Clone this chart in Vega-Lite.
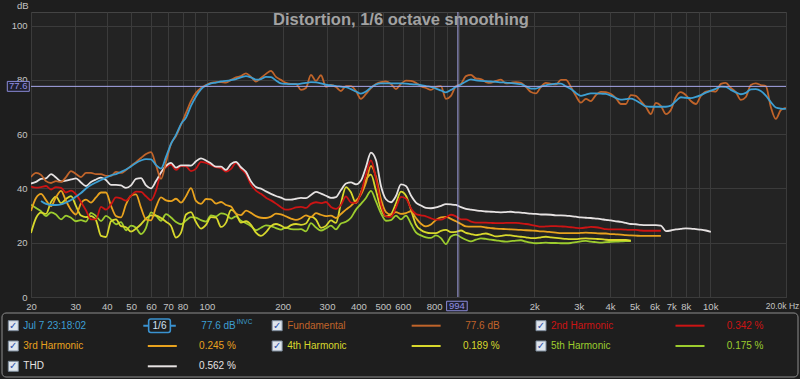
{
"$schema": "https://vega.github.io/schema/vega-lite/v6.json",
"width": 755, "height": 285,
"autosize": {"type": "none"},
"padding": {"left": 31, "top": 12, "right": 14, "bottom": 82},
"background": "#1e1e1e",
"config": {
  "view": {"fill": "#232323", "stroke": "#444444"},
  "font": "Liberation Sans"
},
"title": {"text": "Distortion, 1/6 octave smoothing", "anchor": "middle", "frame": "group", "offset": -41, "baseline": "alphabetic", "dx": -7.5, "color": "#a2a2a2", "fontSize": 16.5, "fontWeight": "bold", "font": "Liberation Sans"},
"datasets": {
"curves": [
{"f":20,"F":44.2,"THD":41.8,"H2":40.7,"H3":31.7,"H4":23.6,"H5":34.0},
{"f":20.94,"F":45.7,"THD":42.4,"H2":40.3,"H3":36.5,"H4":29.1,"H5":32.8},
{"f":21.92,"F":45.0,"B":35.4,"THD":43.5,"H2":40.5,"H3":38.0,"H4":31.1,"H5":31.6},
{"f":22.94,"F":42.7,"B":34.3,"THD":43.7,"H2":40.9,"H3":35.7,"H4":30.6,"H5":29.8},
{"f":24.02,"F":42.0,"B":33.9,"THD":45.3,"H2":39.6,"H3":33.5,"H4":35.0,"H5":31.2},
{"f":25.14,"F":42.7,"B":33.9,"THD":44.0,"H2":40.5,"H3":36.8,"H4":37.0,"H5":30.4},
{"f":26.32,"F":42.4,"B":34.1,"THD":42.6,"H2":40.2,"H3":39.1,"H4":34.6,"H5":28.6},
{"f":27.55,"F":44.2,"B":34.8,"THD":42.9,"H2":38.5,"H3":35.4,"H4":36.1,"H5":30.0},
{"f":28.84,"F":46.4,"B":35.7,"THD":43.3,"H2":39.2,"H3":32.1,"H4":37.2,"H5":29.2},
{"f":30.19,"F":45.3,"B":37.0,"THD":43.7,"H2":37.8,"H3":30.4,"H4":33.5,"H5":27.9},
{"f":31.6,"F":44.2,"B":38.3,"THD":42.2,"H2":35.0,"H3":34.5,"H4":30.0,"H5":28.3},
{"f":33.08,"F":45.7,"B":40.0,"THD":40.9,"H2":31.9,"H3":35.9,"H4":29.4,"H5":27.8},
{"f":34.63,"F":45.7,"B":41.3,"THD":42.4,"H2":28.6,"H3":34.8,"H4":29.8,"H5":31.0},
{"f":36.25,"F":45.3,"B":42.2,"THD":43.3,"H2":28.6,"H3":36.7,"H4":28.3,"H5":29.8},
{"f":37.95,"F":45.3,"B":43.1,"THD":44.0,"H2":33.2,"H3":38.5,"H4":22.5,"H5":28.0},
{"f":39.72,"F":44.6,"B":44.0,"THD":43.1,"H2":32.2,"H3":38.5,"H4":22.1,"H5":29.9},
{"f":41.58,"F":44.6,"B":44.8,"THD":41.3,"H2":34.1,"H3":33.7,"H4":27.9,"H5":28.6},
{"f":43.53,"F":46.1,"B":45.3,"THD":41.3,"H2":36.7,"H3":29.8,"H4":28.6,"H5":26.8},
{"f":45.57,"F":45.7,"B":46.1,"THD":41.1,"H2":36.3,"H3":29.3,"H4":26.1,"H5":27.6},
{"f":47.7,"F":46.8,"B":47.0,"THD":40.2,"H2":35.5,"H3":34.1,"H4":25.7,"H5":24.6},
{"f":49.93,"F":48.3,"B":48.1,"THD":41.1,"H2":37.3,"H3":37.3,"H4":24.1,"H5":26.3},
{"f":52.27,"F":49.7,"B":49.4,"THD":43.5,"H2":38.8,"H3":37.8,"H4":25.2,"H5":25.5},
{"f":54.71,"F":51.2,"B":50.3,"THD":43.8,"H2":38.7,"H3":32.9,"H4":26.8,"H5":23.2},
{"f":57.28,"F":52.7,"B":50.8,"THD":41.1,"H2":37.1,"H3":28.6,"H4":28.9,"H5":25.5},
{"f":59.96,"F":53.4,"B":50.7,"THD":40.0,"H2":35.6,"H3":28.2,"H4":30.1,"H5":31.2},
{"f":62.76,"F":48.6,"B":48.6,"THD":42.7,"H2":39.2,"H3":33.1,"H4":30.0,"H5":30.0},
{"f":65.7,"F":43.5,"B":47.3,"THD":45.9,"H2":45.9,"H3":36.7,"H4":29.1,"H5":28.1},
{"f":68.78,"F":49.7,"B":51.6,"THD":48.3,"H2":47.8,"H3":35.6,"H4":27.7,"H5":30.5},
{"f":72.0,"F":56.4,"B":56.4,"THD":49.4,"H2":48.8,"H3":35.3,"H4":26.2,"H5":29.3},
{"f":75.37,"F":59.3,"B":59.7,"THD":47.7,"H2":46.8,"H3":36.2,"H4":21.9,"H5":27.6},
{"f":78.89,"F":63.4,"B":63.7,"THD":48.5,"H2":48.2,"H3":34.8,"H4":23.7,"H5":26.8},
{"f":82.59,"F":67.8,"B":66.1,"THD":48.5,"H2":48.1,"H3":37.1,"H4":30.4,"H5":28.2},
{"f":86.45,"F":72.2,"B":70.4,"THD":48.4,"H2":46.4,"H3":40.1,"H4":31.3,"H5":29.4},
{"f":90.5,"F":75.2,"B":73.9,"THD":50.0,"H2":47.3,"H3":35.4,"H4":27.6,"H5":29.2},
{"f":94.73,"F":77.0,"B":76.5,"THD":51.1,"H2":49.8,"H3":34.3,"H4":25.2,"H5":28.3},
{"f":99.17,"F":78.1,"B":77.9,"THD":50.3,"H2":49.4,"H3":36.1,"H4":26.6,"H5":27.8},
{"f":103.8,"F":78.9,"B":78.7,"THD":49.2,"H2":48.7,"H3":36.0,"H4":29.4,"H5":30.1},
{"f":108.7,"F":79.2,"B":79.0,"THD":48.0,"H2":47.8,"H3":34.4,"H4":29.2,"H5":29.7},
{"f":113.8,"F":79.2,"B":79.4,"THD":48.0,"H2":47.5,"H3":35.0,"H4":25.8,"H5":30.8},
{"f":119.1,"F":79.0,"B":79.6,"THD":46.8,"H2":46.2,"H3":33.9,"H4":27.4,"H5":30.4},
{"f":124.7,"F":80.0,"B":79.9,"THD":49.0,"H2":47.2,"H3":33.3,"H4":32.1,"H5":28.9},
{"f":130.5,"F":80.9,"B":80.3,"THD":49.8,"H2":49.4,"H3":30.7,"H4":30.7,"H5":29.7},
{"f":136.6,"F":81.4,"B":80.9,"THD":47.8,"H2":47.2,"H3":30.2,"H4":27.4,"H5":28.1},
{"f":143.0,"F":82.4,"B":81.4,"THD":46.1,"H2":45.3,"H3":31.8,"H4":27.9,"H5":27.2},
{"f":149.7,"F":81.1,"B":80.9,"THD":42.6,"H2":41.4,"H3":31.0,"H4":26.6,"H5":26.1},
{"f":156.7,"F":79.4,"B":80.1,"THD":40.5,"H2":39.2,"H3":29.8,"H4":23.7,"H5":24.6},
{"f":164.0,"F":80.7,"B":80.3,"THD":39.9,"H2":38.0,"H3":29.2,"H4":22.5,"H5":25.5},
{"f":171.7,"F":82.2,"B":81.1,"THD":38.9,"H2":36.6,"H3":29.1,"H4":23.9,"H5":26.4},
{"f":179.7,"F":83.3,"B":81.0,"THD":38.0,"H2":35.6,"H3":29.6,"H4":26.1,"H5":26.1},
{"f":188.1,"F":81.1,"B":79.8,"THD":37.2,"H2":34.4,"H3":30.7,"H4":26.9,"H5":25.4},
{"f":196.9,"F":80.0,"B":78.7,"THD":36.6,"H2":33.1,"H3":30.4,"H4":26.3,"H5":24.8},
{"f":206.2,"F":78.9,"B":78.5,"THD":35.9,"H2":32.2,"H3":29.7,"H4":25.4,"H5":25.6},
{"f":215.8,"F":78.5,"B":78.4,"THD":35.9,"H2":32.4,"H3":28.9,"H4":26.5,"H5":25.0},
{"f":225.9,"F":78.5,"B":78.4,"THD":36.2,"H2":33.0,"H3":28.4,"H4":26.9,"H5":24.9},
{"f":236.5,"F":76.3,"B":78.6,"THD":36.5,"H2":33.2,"H3":29.0,"H4":26.6,"H5":25.0},
{"f":247.5,"F":77.0,"B":78.9,"THD":36.4,"H2":32.8,"H3":30.1,"H4":27.1,"H5":24.2},
{"f":259.1,"F":81.8,"B":79.2,"THD":37.6,"H2":34.3,"H3":29.4,"H4":29.6,"H5":27.2},
{"f":271.3,"F":79.6,"B":79.1,"THD":38.7,"H2":34.9,"H3":30.9,"H4":28.5,"H5":25.6},
{"f":283.9,"F":81.7,"B":78.7,"THD":38.1,"H2":34.6,"H3":30.3,"H4":25.5,"H5":24.5},
{"f":297.2,"F":77.4,"B":78.2,"THD":37.3,"H2":35.0,"H3":29.8,"H4":26.2,"H5":25.3},
{"f":311.1,"F":78.1,"B":78.0,"THD":36.5,"H2":33.2,"H3":30.0,"H4":28.2,"H5":26.3},
{"f":325.7,"F":77.4,"B":77.7,"THD":36.8,"H2":32.5,"H3":29.1,"H4":27.3,"H5":24.9},
{"f":340.9,"F":75.9,"B":77.5,"THD":39.4,"H2":33.9,"H3":30.6,"H4":34.5,"H5":27.1},
{"f":356.9,"F":77.7,"B":77.3,"THD":41.8,"H2":37.1,"H3":32.2,"H4":40.5,"H5":27.7},
{"f":373.6,"F":77.7,"B":76.6,"THD":42.2,"H2":34.8,"H3":33.6,"H4":38.6,"H5":29.2},
{"f":391.1,"F":75.9,"B":75.7,"THD":41.5,"H2":34.7,"H3":35.5,"H4":34.6,"H5":32.2},
{"f":409.4,"F":73.0,"B":74.9,"THD":42.9,"H2":38.3,"H3":37.7,"H4":38.6,"H5":34.3},
{"f":428.5,"F":74.8,"B":75.7,"THD":47.9,"H2":45.1,"H3":42.1,"H4":43.2,"H5":36.5},
{"f":448.6,"F":77.0,"B":77.2,"THD":53.2,"H2":50.3,"H3":48.3,"H4":45.1,"H5":39.1},
{"f":469.6,"F":78.5,"B":78.3,"THD":50.5,"H2":43.7,"H3":44.3,"H4":39.2,"H5":35.2},
{"f":491.6,"F":79.2,"B":78.7,"THD":40.9,"H2":34.2,"H3":36.0,"H4":32.5,"H5":30.8},
{"f":514.6,"F":79.4,"B":78.7,"THD":36.0,"H2":29.7,"H3":31.3,"H4":29.7,"H5":28.1},
{"f":538.7,"F":78.5,"B":78.7,"THD":34.9,"H2":29.5,"H3":30.4,"H4":30.5,"H5":28.3},
{"f":563.9,"F":76.6,"B":78.7,"THD":37.2,"H2":32.9,"H3":31.3,"H4":34.5,"H5":30.0},
{"f":590.2,"F":78.5,"B":78.7,"THD":41.5,"H2":36.9,"H3":30.6,"H4":38.8,"H5":28.6},
{"f":617.9,"F":79.7,"B":78.6,"THD":40.9,"H2":36.3,"H3":30.9,"H4":37.3,"H5":30.0},
{"f":646.8,"F":79.6,"B":78.4,"THD":37.4,"H2":32.6,"H3":31.6,"H4":32.2,"H5":27.0},
{"f":677.0,"F":78.9,"B":78.3,"THD":34.8,"H2":30.6,"H3":29.1,"H4":26.7,"H5":23.8},
{"f":708.7,"F":77.7,"B":78.1,"THD":33.7,"H2":30.1,"H3":27.0,"H4":24.7,"H5":22.7},
{"f":741.9,"F":77.0,"B":77.7,"THD":32.8,"H2":29.7,"H3":26.0,"H4":23.8,"H5":22.0},
{"f":776.6,"F":76.3,"B":77.4,"THD":32.7,"H2":29.0,"H3":26.7,"H4":23.5,"H5":21.8},
{"f":813.0,"F":77.4,"B":76.8,"THD":33.0,"H2":28.5,"H3":28.4,"H4":23.5,"H5":22.7},
{"f":851.0,"F":77.7,"B":76.1,"THD":33.6,"H2":28.5,"H3":29.3,"H4":24.4,"H5":21.7},
{"f":890.8,"F":73.0,"B":75.4,"THD":34.2,"H2":29.3,"H3":29.5,"H4":24.7,"H5":19.5},
{"f":932.5,"F":74.1,"B":76.3,"THD":34.1,"H2":30.3,"H3":28.8,"H4":23.9,"H5":22.3},
{"f":976.1,"F":77.7,"B":77.4,"THD":33.9,"H2":29.7,"H3":27.9,"H4":24.0,"H5":23.0},
{"f":1022,"F":78.5,"B":78.3,"THD":33.1,"H2":28.6,"H3":26.9,"H4":24.5,"H5":22.0},
{"f":1070,"F":81.4,"B":79.4,"THD":32.5,"H2":28.6,"H3":26.0,"H4":23.6,"H5":21.1},
{"f":1120,"F":81.8,"B":80.2,"THD":32.2,"H2":27.8,"H3":25.9,"H4":23.2,"H5":20.5},
{"f":1172,"F":80.5,"B":79.8,"THD":31.9,"H2":27.4,"H3":25.9,"H4":22.8,"H5":21.1},
{"f":1227,"F":80.3,"B":79.6,"THD":31.7,"H2":27.4,"H3":25.9,"H4":23.1,"H5":21.6},
{"f":1284,"F":79.2,"B":79.5,"THD":31.5,"H2":27.4,"H3":25.6,"H4":23.4,"H5":21.4},
{"f":1344,"F":78.9,"B":79.4,"THD":31.4,"H2":27.3,"H3":25.4,"H4":22.9,"H5":21.1},
{"f":1407,"F":79.6,"B":79.3,"THD":31.3,"H2":27.2,"H3":25.2,"H4":22.3,"H5":20.9},
{"f":1473,"F":80.1,"B":79.1,"THD":31.2,"H2":27.2,"H3":25.1,"H4":22.5,"H5":20.6},
{"f":1542,"F":78.7,"B":79.0,"THD":31.3,"H2":27.3,"H3":25.0,"H4":22.8,"H5":20.4},
{"f":1614,"F":78.9,"B":78.8,"THD":31.4,"H2":27.3,"H3":24.9,"H4":22.7,"H5":20.6},
{"f":1690,"F":79.2,"B":78.6,"THD":31.2,"H2":27.3,"H3":24.8,"H4":22.4,"H5":20.8},
{"f":1769,"F":78.9,"B":78.4,"THD":31.1,"H2":27.1,"H3":24.7,"H4":22.2,"H5":20.9},
{"f":1852,"F":77.4,"B":77.6,"THD":30.9,"H2":26.9,"H3":24.6,"H4":22.0,"H5":20.4},
{"f":1938,"F":75.5,"B":76.8,"THD":30.7,"H2":26.6,"H3":24.5,"H4":21.7,"H5":20.0},
{"f":2029,"F":75.0,"B":76.8,"THD":30.6,"H2":26.2,"H3":24.4,"H4":21.7,"H5":19.8},
{"f":2124,"F":77.4,"B":77.5,"THD":30.4,"H2":25.9,"H3":24.2,"H4":22.0,"H5":19.9},
{"f":2223,"F":78.9,"B":78.0,"THD":30.4,"H2":26.0,"H3":24.1,"H4":22.2,"H5":20.0},
{"f":2327,"F":78.5,"B":78.3,"THD":30.3,"H2":26.1,"H3":23.9,"H4":22.0,"H5":19.9},
{"f":2436,"F":78.3,"B":78.6,"THD":30.1,"H2":26.1,"H3":23.7,"H4":21.8,"H5":19.9},
{"f":2550,"F":80.0,"B":78.6,"THD":30.1,"H2":26.0,"H3":23.5,"H4":21.6,"H5":19.8},
{"f":2670,"F":80.0,"B":77.6,"THD":30.0,"H2":25.9,"H3":23.5,"H4":21.4,"H5":19.8},
{"f":2795,"F":77.4,"B":76.6,"THD":29.8,"H2":25.7,"H3":23.5,"H4":21.3,"H5":19.9},
{"f":2925,"F":74.1,"B":75.2,"THD":29.6,"H2":25.5,"H3":23.5,"H4":21.3,"H5":20.2},
{"f":3062,"F":71.6,"B":74.1,"THD":29.3,"H2":25.4,"H3":23.6,"H4":21.5,"H5":20.5},
{"f":3205,"F":73.0,"B":74.6,"THD":29.2,"H2":25.6,"H3":23.7,"H4":21.6,"H5":20.7},
{"f":3355,"F":72.2,"B":75.0,"THD":29.1,"H2":25.8,"H3":23.6,"H4":21.5,"H5":20.4},
{"f":3512,"F":74.4,"B":75.0,"THD":28.9,"H2":25.7,"H3":23.5,"H4":21.4,"H5":20.2},
{"f":3677,"F":75.6,"B":74.9,"THD":28.7,"H2":25.4,"H3":23.4,"H4":21.3,"H5":20.0},
{"f":3849,"F":75.5,"B":74.8,"THD":28.4,"H2":25.0,"H3":23.4,"H4":21.1,"H5":20.2},
{"f":4029,"F":74.8,"B":74.2,"THD":28.2,"H2":24.9,"H3":23.2,"H4":21.0,"H5":20.3},
{"f":4218,"F":73.3,"B":73.3,"THD":27.9,"H2":24.9,"H3":23.1,"H4":21.0,"H5":20.4},
{"f":4415,"F":71.1,"B":72.7,"THD":27.7,"H2":24.9,"H3":23.0,"H4":21.0,"H5":20.5},
{"f":4621,"F":71.1,"B":72.9,"THD":27.3,"H2":24.8,"H3":22.8,"H4":21.0,"H5":20.6},
{"f":4838,"F":74.4,"B":73.1,"THD":26.9,"H2":24.7,"H3":22.7,"H4":20.8,"H5":20.6},
{"f":5064,"F":74.1,"B":72.4,"THD":26.8,"H2":24.7,"H3":22.6},
{"f":5301,"F":72.2,"B":71.3,"THD":26.6,"H2":24.5,"H3":22.5},
{"f":5549,"F":70.0,"B":70.2,"THD":26.5,"H2":24.4,"H3":22.5},
{"f":5809,"F":67.4,"B":70.1,"THD":26.5,"H2":24.4,"H3":22.5},
{"f":6081,"F":71.5,"B":70.1,"THD":26.5,"H2":24.4,"H3":22.5},
{"f":6365,"F":70.4,"B":70.1,"THD":26.3,"H2":24.4,"H3":22.5},
{"f":6663,"F":67.4,"B":70.1,"THD":24.3},
{"f":6975,"F":68.9,"B":70.5,"THD":24.5},
{"f":7301,"F":73.7,"B":72.2,"THD":24.9},
{"f":7643,"F":75.5,"B":73.6,"THD":25.1},
{"f":8000,"F":74.4,"B":73.4,"THD":25.3},
{"f":8375,"F":72.2,"B":73.3,"THD":25.2},
{"f":8767,"F":71.1,"B":73.7,"THD":25.0},
{"f":9177,"F":74.1,"B":74.4,"THD":24.8},
{"f":9606,"F":75.7,"B":75.3,"THD":24.5},
{"f":10056,"F":75.9,"B":76.0,"THD":24.0},
{"f":10526,"F":75.7,"B":76.7},
{"f":11019,"F":78.5,"B":77.5},
{"f":11534,"F":78.9,"B":77.4},
{"f":12074,"F":77.0,"B":76.3},
{"f":12639,"F":75.5,"B":75.4},
{"f":13231,"F":72.6,"B":74.7},
{"f":13850,"F":73.7,"B":75.2},
{"f":14498,"F":78.1,"B":76.5},
{"f":15176,"F":78.7,"B":76.6},
{"f":15886,"F":78.1,"B":75.9},
{"f":16630,"F":77.7,"B":74.2},
{"f":17408,"F":70.0,"B":71.8},
{"f":18222,"F":65.6,"B":69.8},
{"f":19075,"F":68.9,"B":69.4},
{"f":19968,"F":69.7,"B":69.3}
],
"legend": [
{"series":"B","name":"Jul 7 23:18:02","val":"77.6 dB","g":1,"r":1},
{"series":"F","name":"Fundamental","val":"77.6 dB","g":2,"r":1},
{"series":"H2","name":"2nd Harmonic","val":"0.342 %","g":3,"r":1},
{"series":"H3","name":"3rd Harmonic","val":"0.245 %","g":1,"r":2},
{"series":"H4","name":"4th Harmonic","val":"0.189 %","g":2,"r":2},
{"series":"H5","name":"5th Harmonic","val":"0.175 %","g":3,"r":2},
{"series":"THD","name":"THD","val":"0.562 %","g":1,"r":3}
]
},
"layer": [
{
  "layer": [
    {
      "data": {"name": "curves"},
      "transform": [{"fold": ["H5","H4","H3","H2","THD","F","B"], "as": ["s","db"]}, {"filter": "isValid(datum.db)"}],
      "mark": {"type": "line", "strokeWidth": 1.8, "interpolate": "monotone", "clip": true},
      "encoding": {
        "x": {"field": "f", "type": "quantitative",
              "scale": {"type": "log", "domain": [20, 20000], "nice": false},
              "axis": {"values": [20,30,40,50,60,70,80,90,100,200,300,400,500,600,700,800,900,1000,2000,3000,4000,5000,6000,7000,8000,9000,10000,20000],
                       "labelExpr": "datum.value == 20000 ? '20.0k Hz' : (datum.value == 90 || datum.value == 700 || datum.value == 900 || datum.value == 1000 || datum.value == 9000) ? '' : datum.value >= 1000 ? (datum.value / 1000) + 'k' : '' + datum.value",
                       "labelOverlap": false, "labelFlush": false, "grid": true, "gridColor": "#3b3b3b", "ticks": false, "tickSize": 0, "domain": false,
                       "labelColor": "#c4c4c4", "labelPadding": 4, "title": null,
                       "labelFontSize": {"condition": {"test": "datum.value == 20000", "value": 8.5}, "value": 9.5},
                       "labelOffset": {"condition": {"test": "datum.value == 20000", "value": -4}, "value": 0}}},
        "y": {"field": "db", "type": "quantitative",
              "scale": {"domain": [0, 105], "nice": false, "zero": false},
              "axis": {"values": [0,20,40,60,80,100], "grid": true, "gridColor": "#3b3b3b", "ticks": false, "tickSize": 0, "domain": false,
                       "labelColor": "#c4c4c4", "labelFontSize": 9.5, "labelPadding": 4,
                       "title": "dB", "titleAngle": 0, "titleAlign": "right", "titleBaseline": "alphabetic", "titleX": -3, "titleY": -4,
                       "titleFontSize": 9.5, "titleFontWeight": "normal", "titleColor": "#c4c4c4"}},
        "color": {"field": "s", "type": "nominal",
                  "scale": {"domain": ["H5","H4","H3","H2","THD","F","B"], "range": ["#9ccc2e","#d8d82c","#e8a21e","#cc1414","#e6e2e2","#c0642a","#3d9fd3"]},
                  "legend": null}
      }
    },
    {"data": {"values": [{}]}, "mark": {"type": "rule", "color": "#a9a9ec", "strokeWidth": 1}, "encoding": {"y": {"datum": 77.6, "type": "quantitative"}}},
    {"data": {"values": [{}]}, "mark": {"type": "rule", "color": "#a9a9ec", "strokeWidth": 1}, "encoding": {"x": {"datum": 994, "type": "quantitative"}}},
    {"data": {"values": [{}]}, "mark": {"type": "point", "shape": "M-1,-0.45H1V0.45H-1Z", "size": 484, "filled": true, "fill": "#1f1f2c", "stroke": "#8a8ad8", "strokeWidth": 1, "opacity": 1, "xOffset": -12.7},
     "encoding": {"x": {"datum": 20, "type": "quantitative"}, "y": {"datum": 77.6, "type": "quantitative"}}},
    {"data": {"values": [{}]}, "mark": {"type": "text", "text": "77.6", "color": "#9090e4", "fontSize": 9.5, "dx": -12.7, "align": "center", "baseline": "middle"},
     "encoding": {"x": {"datum": 20, "type": "quantitative"}, "y": {"datum": 77.6, "type": "quantitative"}}},
    {"data": {"values": [{}]}, "mark": {"type": "point", "shape": "M-1,-0.46H1V0.46H-1Z", "size": 424, "filled": true, "fill": "#1f1f2c", "stroke": "#8a8ad8", "strokeWidth": 1, "opacity": 1, "xOffset": -1, "yOffset": 9},
     "encoding": {"x": {"datum": 994, "type": "quantitative"}, "y": {"datum": 0, "type": "quantitative"}}},
    {"data": {"values": [{}]}, "mark": {"type": "text", "text": "994", "color": "#9090e4", "fontSize": 9.5, "dx": -1, "dy": 9, "align": "center", "baseline": "middle"},
     "encoding": {"x": {"datum": 994, "type": "quantitative"}, "y": {"datum": 0, "type": "quantitative"}}}
  ]
},
{
  "data": {"name": "legend"},
  "layer": [
    {"data": {"values": [{}]},
     "mark": {"type": "rect", "filled": false, "stroke": "#8c8c8c", "strokeWidth": 1, "cornerRadius": 4, "xOffset": -11.3, "x2Offset": 257, "yOffset": -12.7, "y2Offset": 10.7},
     "encoding": {"x": {"datum": 1, "type": "ordinal", "scale": {"type": "point", "range": [-17.7, 510], "padding": 0}, "axis": null},
                  "x2": {"datum": 3},
                  "y": {"datum": 1, "type": "ordinal", "scale": {"type": "point", "range": [313.7, 354.3], "padding": 0}, "axis": null},
                  "y2": {"datum": 3}}},
    {"mark": {"type": "point", "shape": "square", "size": 100, "filled": true, "fill": "#dfe6ee", "stroke": "#7d8b9c", "strokeWidth": 1, "opacity": 1},
     "encoding": {"x": {"field": "g", "type": "ordinal", "axis": null}, "y": {"field": "r", "type": "ordinal", "axis": null}}},
    {"mark": {"type": "text", "text": "✓", "font": "DejaVu Sans", "fontSize": 10, "fontWeight": "bold", "color": "#2c4fa8", "align": "center", "baseline": "middle"},
     "encoding": {"x": {"field": "g", "type": "ordinal", "axis": null}, "y": {"field": "r", "type": "ordinal", "axis": null}}},
    {"mark": {"type": "text", "fontSize": 10, "align": "left", "baseline": "middle", "dx": 10},
     "encoding": {"x": {"field": "g", "type": "ordinal", "axis": null}, "y": {"field": "r", "type": "ordinal", "axis": null},
                  "text": {"field": "name"}, "color": {"field": "series", "type": "nominal", "legend": null}}},
    {"mark": {"type": "text", "fontSize": 10, "align": "right", "baseline": "middle", "dx": 222.5},
     "encoding": {"x": {"field": "g", "type": "ordinal", "axis": null}, "y": {"field": "r", "type": "ordinal", "axis": null},
                  "text": {"field": "val"}, "color": {"field": "series", "type": "nominal", "legend": null}}},
    {"transform": [{"filter": "datum.series != 'B'"}],
     "mark": {"type": "rule", "strokeWidth": 2, "xOffset": 134.5, "x2Offset": 163.5},
     "encoding": {"x": {"field": "g", "type": "ordinal", "axis": null}, "x2": {"field": "g"}, "y": {"field": "r", "type": "ordinal", "axis": null},
                  "color": {"field": "series", "type": "nominal", "legend": null}}},
    {"transform": [{"filter": "datum.series == 'B'"}],
     "mark": {"type": "rule", "strokeWidth": 2, "color": "#3a92d0", "xOffset": 130, "x2Offset": 162.5},
     "encoding": {"x": {"field": "g", "type": "ordinal", "axis": null}, "x2": {"field": "g"}, "y": {"field": "r", "type": "ordinal", "axis": null}}},
    {"transform": [{"filter": "datum.series == 'B'"}],
     "mark": {"type": "point", "shape": "M-0.8,-0.62H0.8Q1,-0.62 1,-0.42V0.42Q1,0.62 0.8,0.62H-0.8Q-1,0.62 -1,0.42V-0.42Q-1,-0.62 -0.8,-0.62Z", "size": 471, "filled": true, "fill": "#1e1e1e", "stroke": "#3a92d0", "strokeWidth": 1.6, "opacity": 1, "xOffset": 146.2},
     "encoding": {"x": {"field": "g", "type": "ordinal", "axis": null}, "y": {"field": "r", "type": "ordinal", "axis": null}}},
    {"transform": [{"filter": "datum.series == 'B'"}],
     "mark": {"type": "text", "text": "1/6", "fontSize": 10, "color": "#d0e4f4", "align": "center", "baseline": "middle", "dx": 146.2},
     "encoding": {"x": {"field": "g", "type": "ordinal", "axis": null}, "y": {"field": "r", "type": "ordinal", "axis": null}}},
    {"transform": [{"filter": "datum.series == 'B'"}],
     "mark": {"type": "text", "text": "INVC", "fontSize": 6.5, "align": "left", "baseline": "middle", "dx": 223.5, "dy": -4},
     "encoding": {"x": {"field": "g", "type": "ordinal", "axis": null}, "y": {"field": "r", "type": "ordinal", "axis": null},
                  "color": {"field": "series", "type": "nominal", "legend": null}}}
  ]
}
],
"resolve": {"scale": {"x": "independent", "y": "independent"}, "axis": {"x": "independent", "y": "independent"}}
}
